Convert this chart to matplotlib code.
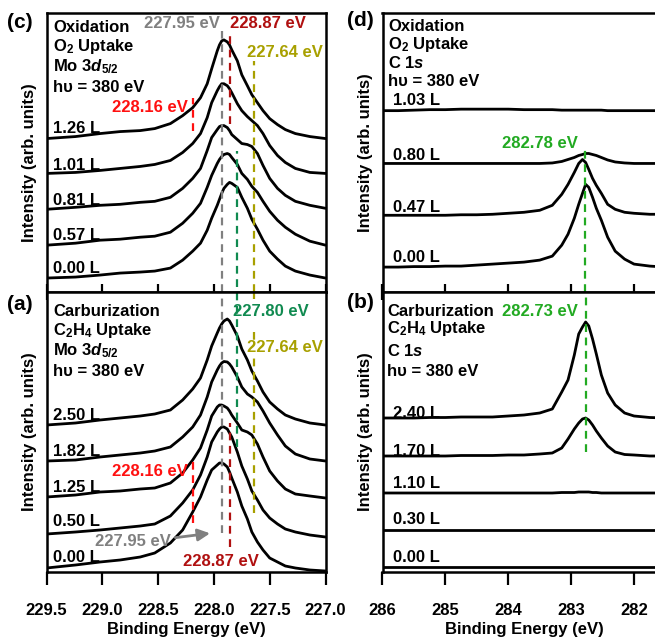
import matplotlib.pyplot as plt
from matplotlib.ticker import FormatStrFormatter

plt.rcParams["font.family"] = ["Liberation Sans", "DejaVu Sans"]
plt.rcParams["font.weight"] = "bold"
plt.rcParams["axes.labelweight"] = "bold"
plt.rcParams["font.size"] = 12
plt.rcParams["mathtext.fontset"] = "custom"
plt.rcParams["mathtext.rm"] = "Liberation Sans:bold"
plt.rcParams["mathtext.it"] = "Liberation Sans:italic:bold"
plt.rcParams["mathtext.bf"] = "Liberation Sans:bold"

# ---- Mo 3d5/2 spectra (binding energy in eV, intensity in arb. units) ----
mo_energy = [229.50, 229.24, 229.02, 228.84, 228.66, 228.53, 228.39, 228.28, 228.19, 228.12,
             228.06, 228.02, 227.97, 227.95, 227.93, 227.91, 227.88, 227.86, 227.84, 227.79,
             227.75, 227.70, 227.66, 227.61, 227.56, 227.50, 227.43, 227.36, 227.27, 227.14,
             227.00]

# (c) oxidation, O2 uptake
mo_ox_labels = ["1.26 L", "1.01 L", "0.81 L", "0.57 L", "0.00 L"]
mo_ox_offsets = [154, 119, 83, 47, 14]
mo_ox_label_y = [164, 127, 92, 57, 24]
mo_ox_126 = [0, 2, 5, 7, 8, 10, 15, 23, 31, 41, 55, 70, 88, 94, 98, 99, 97, 94, 89, 78,
             64, 53, 44, 36, 28, 20, 14, 9, 5, 2, 0]
mo_ox_101 = [0, 1, 3, 5, 7, 9, 13, 21, 30, 40, 56, 71, 83, 87, 90, 90, 88, 85, 81, 70,
             63, 57, 53, 48, 40, 28, 18, 11, 5, 1, 0]
mo_ox_081 = [0, 2, 4, 5, 7, 8, 12, 21, 31, 41, 59, 72, 80, 83, 84, 84, 82, 79, 75, 70,
             66, 65, 63, 56, 44, 31, 21, 14, 8, 4, 1]
mo_ox_057 = [0, 2, 5, 6, 8, 9, 13, 22, 32, 42, 58, 70, 82, 86, 89, 91, 92, 91, 88, 81,
             72, 66, 59, 53, 44, 34, 25, 18, 11, 4, 0]
mo_ox_000 = [0, 1, 3, 5, 6, 7, 10, 18, 27, 35, 48, 60, 73, 79, 85, 90, 94, 96, 95, 91,
             81, 70, 59, 49, 38, 27, 19, 12, 7, 3, 0]

# (a) carburization, C2H4 uptake
mo_carb_labels = ["2.50 L", "1.82 L", "1.25 L", "0.50 L", "0.00 L"]
mo_carb_offsets = [147, 111, 75, 38, 4]
mo_carb_label_y = [157, 120, 84, 50, 15]
mo_carb_250 = [0, 2, 5, 7, 9, 11, 15, 25, 36, 47, 65, 79, 92, 97, 101, 104, 106, 104, 100, 89,
               76, 65, 54, 44, 33, 23, 16, 10, 6, 2, 0]
mo_carb_182 = [0, 1, 4, 6, 8, 10, 14, 24, 34, 46, 64, 79, 91, 95, 98, 99.5, 99, 97, 94, 84,
               74, 67, 64, 59, 50, 38, 26, 15, 7, 2, 0]
mo_carb_125 = [0, 2, 5, 6, 8, 9, 14, 24, 37, 49, 67, 81, 90, 92, 92, 91, 89, 86, 82, 74,
               67, 65, 62, 53, 40, 26, 16, 8, 3, 1, -1]
mo_carb_050 = [0, 2, 4, 6, 8, 10, 18, 31, 44, 59, 77, 92, 102, 105, 107, 107, 105, 101, 97, 82,
               68, 55, 43, 34, 24, 16, 10, 5, 2, -1, -3]
mo_carb_000 = [0, 3, 6, 8, 11, 15, 25, 38, 56, 71, 88, 98, 103, 105, 105, 104, 101, 96, 90, 76,
               62, 49, 36, 26, 18, 10, 6, 2, 0, -2, -3]

# ---- C 1s spectra ----
c_energy = [286.0, 285.75, 285.5, 285.25, 285.0, 284.75, 284.5, 284.25, 284.0, 283.75,
            283.5, 283.3, 283.15, 283.05, 282.95, 282.88, 282.82, 282.77, 282.72, 282.66,
            282.6, 282.52, 282.42, 282.3, 282.15, 282.0, 281.75, 281.5]

# (d) oxidation, O2 uptake
c_ox_labels = ["1.03 L", "0.80 L", "0.47 L", "0.00 L"]
c_ox_offsets = [182, 129, 77, 25]
c_ox_label_y = [192, 137, 85, 35]
c_ox_103 = [0, 0, 0.5, 1, 1, 1.5, 1.5, 1.5, 1.5, 1, 1, 1, 0.5, 0.5, 0.5, 0.5, 0.5, 0.5, 0.5, 0.5, 0.5, 0.5, 0, 0, 0, 0, 0, 0]
c_ox_080 = [0, 0, 0, 0, 0, 0, 0, 0, 0, 0, 0, 0.5, 2, 4, 6, 8, 9, 10, 10, 9, 8, 6, 3.5, 1.5, 0.5, 0, 0, 0]
c_ox_047 = [0, 0, 0, 0, 0, 0.5, 0.5, 1, 2, 3, 5, 10, 21, 31, 43, 52, 56, 53, 46, 37, 30, 22, 11, 6, 3, 2, 1, 1]
c_ox_000 = [0, 0, 0.5, 0.5, 1, 1, 2, 3, 4, 5, 7, 11, 22, 33, 49, 63, 74, 83, 80, 70, 59, 47, 30, 16, 8, 3, 1, 0]

# (b) carburization, C2H4 uptake
c_carb_labels = ["2.40 L", "1.70 L", "1.10 L", "0.30 L", "0.00 L"]
c_carb_offsets = [154, 116, 79, 42, 5]
c_carb_label_y = [158, 121, 89, 52, 15]
c_carb_240 = [0, 0, 0, 0.5, 0.5, 1, 1, 1, 2, 3, 5, 9, 26, 38, 63, 84, 91, 96, 92, 79, 64, 43, 25, 13, 5, 2, 0.5, 0]
c_carb_170 = [0, 0, 0, 0, 0, 0.5, 0.5, 0.5, 1, 1, 2, 3, 8, 17, 27, 33, 37, 38, 36, 31, 25, 18, 10, 4, 1.5, 1, 0, 0]
c_carb_110 = [0, 0, 0, 0, 0, 0, 0, 0, 0, 0, 0, 0, 0.5, 0.5, 0.5, 1, 1, 1, 1, 0.5, 0.5, 0, 0, 0, 0, 0, 0, 0]
c_carb_030 = [0, 0, 0, 0, 0, 0, 0, 0, 0, 0, 0, 0, 0, 0, 0, 0, 0, 0, 0, 0, 0, 0, 0, 0, 0, 0, 0, 0]
c_carb_000 = [0, 0, 0, 0, 0, 0, 0, 0, 0, 0, 0, 0, 0, 0, 0, 0, 0, 0, 0, 0, 0, 0, 0, 0, 0, 0, 0, 0]

GRAY = "#808080"
DARKRED = "#B01010"
RED = "#FF1010"
OLIVE = "#A8A000"
DKGREEN = "#108A50"
GREEN = "#22AA22"
DASH = (0, (3.5, 2.5))

fig = plt.figure(figsize=(6.55, 6.4), dpi=100)
W, H = 655.0, 640.0


def make_axes(x0, x1, y0, y1):
    # pixel box -> figure fraction
    return fig.add_axes([x0 / W, 1 - y1 / H, (x1 - x0) / W, (y1 - y0) / H])


ax_c = make_axes(46.5, 325.5, 13, 292)
ax_a = make_axes(46.5, 325.5, 292, 572)
ax_d = make_axes(382.5, 665.5, 13, 292)
ax_b = make_axes(382.5, 665.5, 292, 572)


def draw_stack(ax, energy, curves, offsets, labels, label_y, label_x):
    for curve, off, lab, ly in zip(curves, offsets, labels, label_y):
        ax.plot(energy, [v + off for v in curve], color="black", lw=2.0,
                solid_joinstyle="round", solid_capstyle="round")
        ax.text(label_x, ly, lab, ha="left", va="center", fontsize=12)


def vline(ax, x, y0, y1, color):
    ax.plot([x, x], [y0, y1], color=color, lw=1.6, ls=DASH)


def style(ax, xlim, ticks, fmt, bottom):
    ax.set_xlim(*xlim)
    ax.set_ylim(0, 280)
    ax.set_yticks([])
    ax.set_xticks(ticks)
    ax.xaxis.set_major_formatter(FormatStrFormatter(fmt))
    for sp in ax.spines.values():
        sp.set_linewidth(1.8)
    if bottom:
        ax.tick_params(axis="x", direction="out", length=9, width=1.6, pad=13, labelsize=12)
        ax.set_xlabel("Binding Energy (eV)", fontsize=12, labelpad=3)
    else:
        ax.tick_params(axis="x", direction="inout", length=11, width=1.6, labelbottom=False)
    ax.set_ylabel("Intensity (arb. units)", fontsize=12, labelpad=7)


mo_ticks = [229.5, 229.0, 228.5, 228.0, 227.5, 227.0]
c_ticks = [286, 285, 284, 283, 282]

# ---------- (c) ----------
draw_stack(ax_c, mo_energy, [mo_ox_126, mo_ox_101, mo_ox_081, mo_ox_057, mo_ox_000],
           mo_ox_offsets, mo_ox_labels, mo_ox_label_y, 229.44)
vline(ax_c, 227.93, 0, 262, GRAY)
vline(ax_c, 227.86, 169, 262, DARKRED)
vline(ax_c, 227.64, 0, 232, OLIVE)
vline(ax_c, 227.79, 5, 142, DKGREEN)
vline(ax_c, 228.19, 162, 195, RED)
ax_c.text(227.945, 269, "227.95 eV", color=GRAY, ha="right", va="center")
ax_c.text(227.856, 269, "228.87 eV", color=DARKRED, ha="left", va="center")
ax_c.text(227.70, 240, "227.64 eV", color=OLIVE, ha="left", va="center")
ax_c.text(228.23, 185, "228.16 eV", color=RED, ha="right", va="center")
for txt, y in zip(["Oxidation", "O$_2$ Uptake", r"Mo 3$\mathit{d}_{\mathit{5/2}}$", "hυ = 380 eV"],
                  [265, 246, 226, 205]):
    ax_c.text(0.023, y, txt, transform=ax_c.get_yaxis_transform(), ha="left", va="center")
style(ax_c, (229.5, 227.0), mo_ticks, "%.1f", False)
ax_c.yaxis.set_label_coords(-0.034, 0.465)

# ---------- (a) ----------
draw_stack(ax_a, mo_energy, [mo_carb_250, mo_carb_182, mo_carb_125, mo_carb_050, mo_carb_000],
           mo_carb_offsets, mo_carb_labels, mo_carb_label_y, 229.44)
vline(ax_a, 227.93, 39, 280, GRAY)
vline(ax_a, 227.86, 25, 149, DARKRED)
vline(ax_a, 227.64, 273, 280, OLIVE)
vline(ax_a, 227.64, 59, 240, OLIVE)
vline(ax_a, 227.79, 125, 280, DKGREEN)
vline(ax_a, 228.19, 49, 112, RED)
ax_a.text(227.83, 260, "227.80 eV", color=DKGREEN, ha="left", va="center")
ax_a.text(227.70, 225, "227.64 eV", color=OLIVE, ha="left", va="center",
          bbox=dict(facecolor="white", edgecolor="none", pad=0))
ax_a.text(228.23, 101, "228.16 eV", color=RED, ha="right", va="center")
ax_a.text(228.39, 31, "227.95 eV", color=GRAY, ha="right", va="center")
ax_a.text(228.28, 10, "228.87 eV", color=DARKRED, ha="left", va="center")
ax_a.annotate("", xy=(228.01, 39), xytext=(228.37, 34),
              arrowprops=dict(arrowstyle="-|>,head_length=0.6,head_width=0.3", color=GRAY, lw=2))
for txt, y in zip(["Carburization", "C$_2$H$_4$ Uptake", r"Mo 3$\mathit{d}_{\mathit{5/2}}$", "hυ = 380 eV"],
                  [260, 241, 221, 200]):
    ax_a.text(0.023, y, txt, transform=ax_a.get_yaxis_transform(), ha="left", va="center")
style(ax_a, (229.5, 227.0), mo_ticks, "%.1f", True)

# ---------- (d) ----------
draw_stack(ax_d, c_energy, [c_ox_103, c_ox_080, c_ox_047, c_ox_000],
           c_ox_offsets, c_ox_labels, c_ox_label_y, 285.83)
vline(ax_d, 282.78, 0, 144, GREEN)
ax_d.text(282.89, 149, "282.78 eV", color=GREEN, ha="right", va="center")
for txt, y in zip(["Oxidation", "O$_2$ Uptake", r"C 1$\mathit{s}$", "hυ = 380 eV"],
                  [266, 248, 230, 211]):
    ax_d.text(0.019, y, txt, transform=ax_d.get_yaxis_transform(), ha="left", va="center")
style(ax_d, (286, 281.5), c_ticks, "%d", False)

# ---------- (b) ----------
draw_stack(ax_b, c_energy, [c_carb_240, c_carb_170, c_carb_110, c_carb_030, c_carb_000],
           c_carb_offsets, c_carb_labels, c_carb_label_y, 285.83)
vline(ax_b, 282.76, 120, 280, GREEN)
ax_b.text(282.89, 260, "282.73 eV", color=GREEN, ha="right", va="center")
for txt, y in zip(["Carburization", "C$_2$H$_4$ Uptake", r"C 1$\mathit{s}$", "hυ = 380 eV"],
                  [260, 243, 221, 200]):
    ax_b.text(0.016, y, txt, transform=ax_b.get_yaxis_transform(), ha="left", va="center")
style(ax_b, (286, 281.5), c_ticks, "%d", True)

# panel letters
for lab, x, y in [("(c)", 20, 22), ("(a)", 20, 304), ("(d)", 360, 20), ("(b)", 360, 303)]:
    fig.text(x / W, 1 - y / H, lab, fontsize=15, ha="center", va="center")

fig.savefig("out.png", dpi=100)
